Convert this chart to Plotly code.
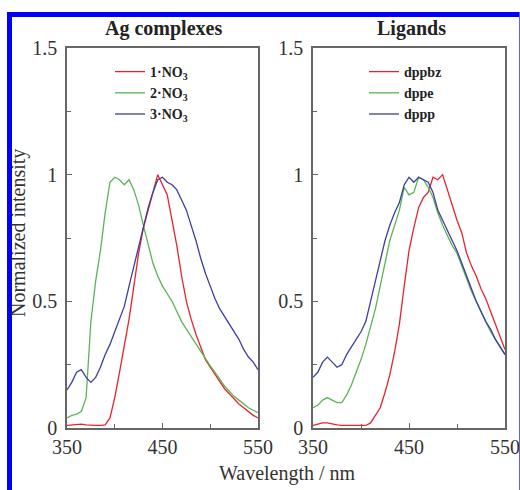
import plotly.graph_objects as go

wavelength = [350 + 5 * i for i in range(41)]

# Ag complexes
no3_1 = [0.010, 0.012, 0.015, 0.015, 0.012, 0.010, 0.010, 0.010, 0.012, 0.040,
         0.120, 0.220, 0.320, 0.430, 0.560, 0.690, 0.790, 0.860, 0.930, 1.000,
         0.960, 0.920, 0.820, 0.720, 0.600, 0.500, 0.430, 0.370, 0.320, 0.270,
         0.240, 0.210, 0.180, 0.155, 0.135, 0.115, 0.095, 0.080, 0.065, 0.050, 0.040]
no3_2 = [0.040, 0.050, 0.055, 0.065, 0.120, 0.420, 0.580, 0.700, 0.850, 0.970,
         0.990, 0.980, 0.960, 0.980, 0.940, 0.880, 0.800, 0.720, 0.650, 0.600,
         0.560, 0.530, 0.500, 0.460, 0.420, 0.390, 0.360, 0.330, 0.300, 0.270,
         0.245, 0.220, 0.190, 0.165, 0.145, 0.125, 0.110, 0.095, 0.080, 0.070, 0.060]
no3_3 = [0.150, 0.180, 0.220, 0.230, 0.200, 0.180, 0.200, 0.240, 0.290, 0.330,
         0.380, 0.430, 0.480, 0.560, 0.640, 0.720, 0.800, 0.870, 0.930, 0.980,
         0.990, 0.970, 0.960, 0.940, 0.900, 0.860, 0.800, 0.740, 0.670, 0.610,
         0.560, 0.510, 0.470, 0.440, 0.410, 0.380, 0.350, 0.310, 0.280, 0.260, 0.230]

# Ligands
dppbz = [0.010, 0.015, 0.020, 0.020, 0.015, 0.012, 0.010, 0.010, 0.010, 0.010,
         0.010, 0.010, 0.020, 0.050, 0.080, 0.140, 0.210, 0.300, 0.410, 0.560,
         0.700, 0.790, 0.870, 0.910, 0.930, 0.990, 0.980, 1.000, 0.940, 0.880,
         0.820, 0.770, 0.690, 0.640, 0.600, 0.550, 0.510, 0.460, 0.410, 0.360, 0.310]
dppe = [0.080, 0.090, 0.110, 0.120, 0.110, 0.100, 0.100, 0.130, 0.170, 0.220,
        0.270, 0.330, 0.400, 0.470, 0.560, 0.650, 0.740, 0.800, 0.860, 0.950,
        0.920, 0.930, 0.990, 0.980, 0.950, 0.910, 0.850, 0.800, 0.760, 0.720,
        0.690, 0.640, 0.590, 0.540, 0.500, 0.460, 0.420, 0.380, 0.350, 0.320, 0.290]
dppp = [0.200, 0.220, 0.260, 0.280, 0.260, 0.240, 0.250, 0.290, 0.320, 0.350,
        0.380, 0.420, 0.500, 0.590, 0.660, 0.740, 0.800, 0.850, 0.890, 0.960,
        0.990, 0.970, 0.990, 0.980, 0.970, 0.930, 0.860, 0.820, 0.780, 0.740,
        0.700, 0.650, 0.600, 0.550, 0.500, 0.460, 0.420, 0.390, 0.350, 0.320, 0.290]

RED, GREEN, BLUE = "#e8232b", "#5cb455", "#3b3f9e"
SERIF = "Liberation Serif"

fig = go.Figure()
left = [("<b>1·NO<sub>3</sub></b>", no3_1, RED),
        ("<b>2·NO<sub>3</sub></b>", no3_2, GREEN),
        ("<b>3·NO<sub>3</sub></b>", no3_3, BLUE)]
right = [("<b>dppbz</b>", dppbz, RED),
         ("<b>dppe</b>", dppe, GREEN),
         ("<b>dppp</b>", dppp, BLUE)]
for name, ys, c in left:
    fig.add_trace(go.Scatter(x=wavelength, y=ys, name=name, mode="lines",
                             line=dict(color=c, width=1.3), xaxis="x", yaxis="y",
                             legend="legend"))
for name, ys, c in right:
    fig.add_trace(go.Scatter(x=wavelength, y=ys, name=name, mode="lines",
                             line=dict(color=c, width=1.3), xaxis="x2", yaxis="y2",
                             legend="legend2"))

W, H = 520, 490
ML, MR, MT, MB = 67, 15, 48, 62
PW, PH = W - ML - MR, H - MT - MB


def px(x):
    return (x - ML) / PW


def py(y):
    return (H - MB - y) / PH


axis_common = dict(showline=True, mirror=True, linecolor="#666", linewidth=1.5,
                   ticks="inside", ticklen=5, tickcolor="#666", showgrid=False,
                   zeroline=False, automargin=False,
                   tickfont=dict(family=SERIF, size=20, color="#333"))
xax = dict(axis_common, range=[350, 550], tickvals=[350, 450, 550],
           minor=dict(tickvals=[400, 500], ticks="inside", ticklen=4, tickcolor="#666"))
yax = dict(axis_common, range=[0, 1.5], tickvals=[0, 0.5, 1, 1.5],
           ticktext=["0", "0.5", "1", "1.5"], ticklabelstandoff=4,
           minor=dict(tickvals=[0.25, 0.75, 1.25], ticks="inside", ticklen=4, tickcolor="#666"))

legfont = dict(family=SERIF, size=14, color="#222")
fig.update_layout(
    width=W, height=H, autosize=False,
    margin=dict(l=ML, r=MR, t=MT, b=MB),
    plot_bgcolor="white", paper_bgcolor="white",
    xaxis=dict(xax, domain=[0, (258 - ML) / PW], anchor="y"),
    yaxis=dict(yax, domain=[0, 1], anchor="x"),
    xaxis2=dict(xax, domain=[(313 - ML) / PW, 1], anchor="y2"),
    yaxis2=dict(yax, domain=[0, 1], anchor="x2"),
    legend=dict(x=px(110), y=py(56), xanchor="left", yanchor="top",
                bgcolor="rgba(0,0,0,0)", font=legfont, tracegroupgap=0),
    legend2=dict(x=px(364), y=py(56), xanchor="left", yanchor="top",
                 bgcolor="rgba(0,0,0,0)", font=legfont, tracegroupgap=0),
    annotations=[
        dict(text="<b>Ag complexes</b>", x=px(163), y=py(29), xref="paper", yref="paper",
             xanchor="center", yanchor="middle",
             showarrow=False, font=dict(family=SERIF, size=20, color="#222")),
        dict(text="<b>Ligands</b>", x=px(411), y=py(29), xref="paper", yref="paper",
             xanchor="center", yanchor="middle",
             showarrow=False, font=dict(family=SERIF, size=20, color="#222")),
        dict(text="Normalized intensity", x=px(19), y=py(233), xref="paper", yref="paper",
             xanchor="center", yanchor="middle",
             showarrow=False, textangle=-90, font=dict(family=SERIF, size=20, color="#333")),
        dict(text="Wavelength / nm", x=px(287), y=py(473), xref="paper", yref="paper",
             xanchor="center", yanchor="middle",
             showarrow=False, font=dict(family=SERIF, size=20, color="#333")),
    ],
    shapes=[
        dict(type="rect", xref="paper", yref="paper", x0=px(7), x1=px(12), y0=py(12), y1=py(490),
             fillcolor="#0000ff", line=dict(width=0)),
        dict(type="rect", xref="paper", yref="paper", x0=px(7), x1=px(520), y0=py(12), y1=py(17),
             fillcolor="#0000ff", line=dict(width=0)),
        dict(type="line", xref="paper", yref="paper", x0=px(519.5), x1=px(519.5), y0=py(12), y1=py(490),
             line=dict(color="#6060ff", width=1)),
    ],
)

fig.write_html(
    "out.html",
    config={"responsive": False, "displayModeBar": False},
    post_script="document.body.style.margin='0';document.body.style.overflow='hidden';",
)
